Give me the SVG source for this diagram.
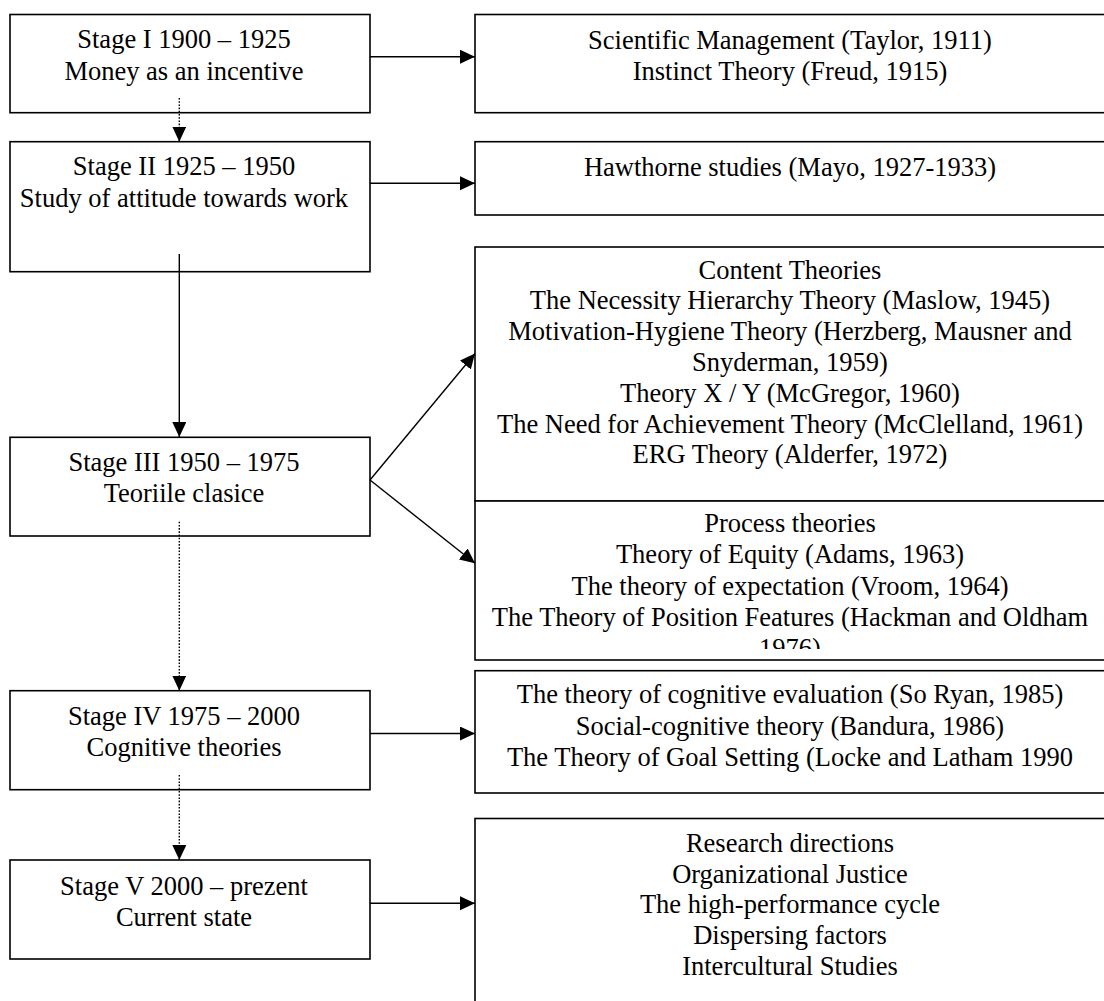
<svg xmlns="http://www.w3.org/2000/svg" width="1104" height="1001" viewBox="0 0 1104 1001">
<style>
.box{fill:#fff;stroke:#000;stroke-width:1.6}
.t{font-family:"Liberation Serif","Times New Roman",serif;font-size:26.5px;fill:#000;text-anchor:middle}
.c{fill:none;stroke:#000;stroke-width:1.4}
.d{stroke-dasharray:1.6 1.6}
</style>
<defs>
<marker id="ah" markerUnits="userSpaceOnUse" markerWidth="16" markerHeight="15" refX="15" refY="7" orient="auto">
<path d="M0,0 L15,7 L0,14 Z" fill="#000"/>
</marker>
<clipPath id="procClip"><rect x="475" y="501" width="640" height="148"/></clipPath>
</defs>
<rect width="1104" height="1001" fill="#fff"/>

<g id="stage1">
<rect class="box" x="10" y="14.5" width="360" height="98.2"/>
<text class="t" x="184" y="48">Stage I 1900 – 1925</text>
<text class="t" x="184" y="79.5">Money as an incentive</text>
</g>
<g id="stage2">
<rect class="box" x="10" y="141.7" width="360" height="130"/>
<text class="t" x="184" y="175">Stage II 1925 – 1950</text>
<text class="t" x="184" y="206.5">Study of attitude towards work</text>
</g>
<g id="stage3">
<rect class="box" x="10" y="437.3" width="360" height="98.7"/>
<text class="t" x="184" y="471">Stage III 1950 – 1975</text>
<text class="t" x="184" y="502">Teoriile clasice</text>
</g>
<g id="stage4">
<rect class="box" x="10" y="690.7" width="360" height="99"/>
<text class="t" x="184" y="724.5">Stage IV 1975 – 2000</text>
<text class="t" x="184" y="756">Cognitive theories</text>
</g>
<g id="stage5">
<rect class="box" x="10" y="860" width="360" height="99"/>
<text class="t" x="184" y="894.5">Stage V 2000 – prezent</text>
<text class="t" x="184" y="925.5">Current state</text>
</g>

<g id="early">
<rect class="box" x="475" y="14.5" width="640" height="98.2"/>
<text class="t" x="790" y="49.3">Scientific Management (Taylor, 1911)</text>
<text class="t" x="790" y="80">Instinct Theory (Freud, 1915)</text>
</g>
<g id="hawthorne">
<rect class="box" x="475" y="141.7" width="640" height="73.3"/>
<text class="t" x="790" y="176">Hawthorne studies (Mayo, 1927-1933)</text>
</g>
<g id="content">
<rect class="box" x="475" y="247" width="640" height="254"/>
<text class="t" x="790" y="278.5">Content Theories</text>
<text class="t" x="790" y="309.3">The Necessity Hierarchy Theory (Maslow, 1945)</text>
<text class="t" x="790" y="340.1">Motivation-Hygiene Theory (Herzberg, Mausner and</text>
<text class="t" x="790" y="370.9">Snyderman, 1959)</text>
<text class="t" x="790" y="401.7">Theory X / Y (McGregor, 1960)</text>
<text class="t" x="790" y="432.5">The Need for Achievement Theory (McClelland, 1961)</text>
<text class="t" x="790" y="463.3">ERG Theory (Alderfer, 1972)</text>
</g>
<g id="process">
<rect class="box" x="475" y="501" width="640" height="159"/>
<g clip-path="url(#procClip)">
<text class="t" x="790" y="531.8">Process theories</text>
<text class="t" x="790" y="563.2">Theory of Equity (Adams, 1963)</text>
<text class="t" x="790" y="594.6">The theory of expectation (Vroom, 1964)</text>
<text class="t" x="790" y="626">The Theory of Position Features (Hackman and Oldham</text>
<text class="t" x="790" y="657.4">1976)</text>
</g>
</g>
<g id="cognitive">
<rect class="box" x="475" y="670.7" width="640" height="122.3"/>
<text class="t" x="790" y="703.3">The theory of cognitive evaluation (So Ryan, 1985)</text>
<text class="t" x="790" y="734.6">Social-cognitive theory (Bandura, 1986)</text>
<text class="t" x="790" y="765.8">The Theory of Goal Setting (Locke and Latham 1990</text>
</g>
<g id="research">
<rect class="box" x="475" y="818.5" width="640" height="200"/>
<text class="t" x="790" y="851.5">Research directions</text>
<text class="t" x="790" y="882.5">Organizational Justice</text>
<text class="t" x="790" y="913.3">The high-performance cycle</text>
<text class="t" x="790" y="944">Dispersing factors</text>
<text class="t" x="790" y="975">Intercultural Studies</text>
</g>

<g id="connectors">
<line class="c" x1="370" y1="56.7" x2="475" y2="56.7" marker-end="url(#ah)"/>
<line class="c" x1="370" y1="183.3" x2="475" y2="183.3" marker-end="url(#ah)"/>
<line class="c" x1="370" y1="733.5" x2="475" y2="733.5" marker-end="url(#ah)"/>
<line class="c" x1="370" y1="903.3" x2="475" y2="903.3" marker-end="url(#ah)"/>
<line class="c" x1="370" y1="480" x2="475" y2="353.5" marker-end="url(#ah)"/>
<line class="c" x1="370" y1="480" x2="475" y2="563.3" marker-end="url(#ah)"/>
<line class="c d" x1="179.3" y1="98" x2="179.3" y2="141.7" marker-end="url(#ah)"/>
<line class="c" x1="179.3" y1="254" x2="179.3" y2="437" marker-end="url(#ah)"/>
<line class="c d" x1="179.3" y1="521.7" x2="179.3" y2="690.7" marker-end="url(#ah)"/>
<line class="c d" x1="179.3" y1="775" x2="179.3" y2="860" marker-end="url(#ah)"/>
</g>
</svg>
